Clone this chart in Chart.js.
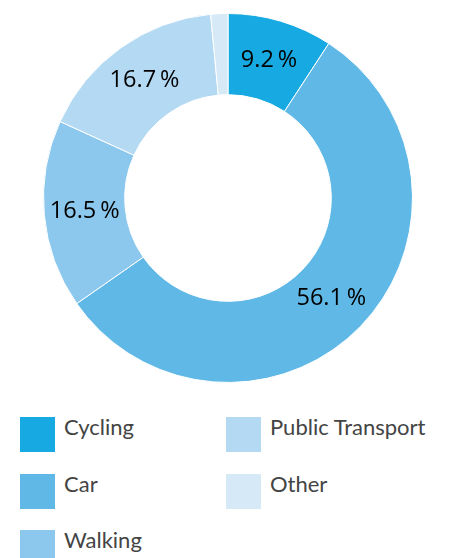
<!DOCTYPE html>
<html>
<head>
<meta charset="utf-8">
<script src="https://cdn.jsdelivr.net/npm/chart.js@4.4.1/dist/chart.umd.min.js"></script>
<style>
  html, body { margin: 0; padding: 0; background: #fff; }
  body { width: 449px; height: 558px; position: relative; overflow: hidden; }
  .chart-box { position: absolute; left: 43px; top: 13px; width: 370px; height: 370px; }
  .legend-item { position: absolute; height: 35px; }
  .legend-box { position: absolute; left: 0; top: 0; width: 35px; height: 35px; }
  .legend-text {
    position: absolute; left: 44px; top: -4px; white-space: nowrap;
    font-family: Lato, sans-serif; font-size: 22px; color: #444;
  }
</style>
</head>
<body>
<div class="chart-box"><canvas id="mode-chart"></canvas></div>
<div id="legend"></div>
<script>
// modal split data
const categories = ['Cycling', 'Car', 'Walking', 'Public Transport', 'Other'];
const shares = [9.2, 56.1, 16.5, 16.7, 1.5];
const sliceColors = ['#17a9e1', '#5fb8e6', '#8cc7ed', '#b4d9f3', '#d6e9f7'];
const shownLabels = [true, true, true, true, false];

// legend layout (column, row) for each category
const legendSlots = [[0, 0], [0, 1], [0, 2], [1, 0], [1, 1]];

// draw percentage text in the middle of each ring slice
const sliceLabels = {
  id: 'sliceLabels',
  afterDatasetsDraw(chart) {
    const ctx = chart.ctx;
    const meta = chart.getDatasetMeta(0);
    ctx.save();
    ctx.font = '23.5px "Open Sans", sans-serif';
    ctx.fillStyle = '#000';
    ctx.textAlign = 'center';
    ctx.textBaseline = 'middle';
    meta.data.forEach((arc, i) => {
      if (!shownLabels[i]) return;
      const pos = arc.tooltipPosition();
      ctx.fillText(shares[i].toFixed(1) + '\u2009%', pos.x, pos.y);
    });
    ctx.restore();
  }
};

new Chart(document.getElementById('mode-chart'), {
  type: 'doughnut',
  data: {
    labels: categories,
    datasets: [{
      data: shares,
      backgroundColor: sliceColors,
      borderColor: '#fff',
      borderWidth: 1,
    }],
  },
  options: {
    responsive: true,
    maintainAspectRatio: false,
    animation: false,
    cutout: '56%',
    plugins: {
      legend: { display: false },
      tooltip: { enabled: false },
    },
  },
  plugins: [sliceLabels],
});

// html legend
const legend = document.getElementById('legend');
categories.forEach((name, i) => {
  const [col, row] = legendSlots[i];
  const item = document.createElement('div');
  item.className = 'legend-item';
  item.style.left = (20 + col * 206) + 'px';
  item.style.top = (417 + row * 56.5) + 'px';
  item.innerHTML = '<div class="legend-box" style="background:' + sliceColors[i] + '"></div>' +
    '<div class="legend-text">' + name + '</div>';
  legend.appendChild(item);
});
</script>
</body>
</html>
